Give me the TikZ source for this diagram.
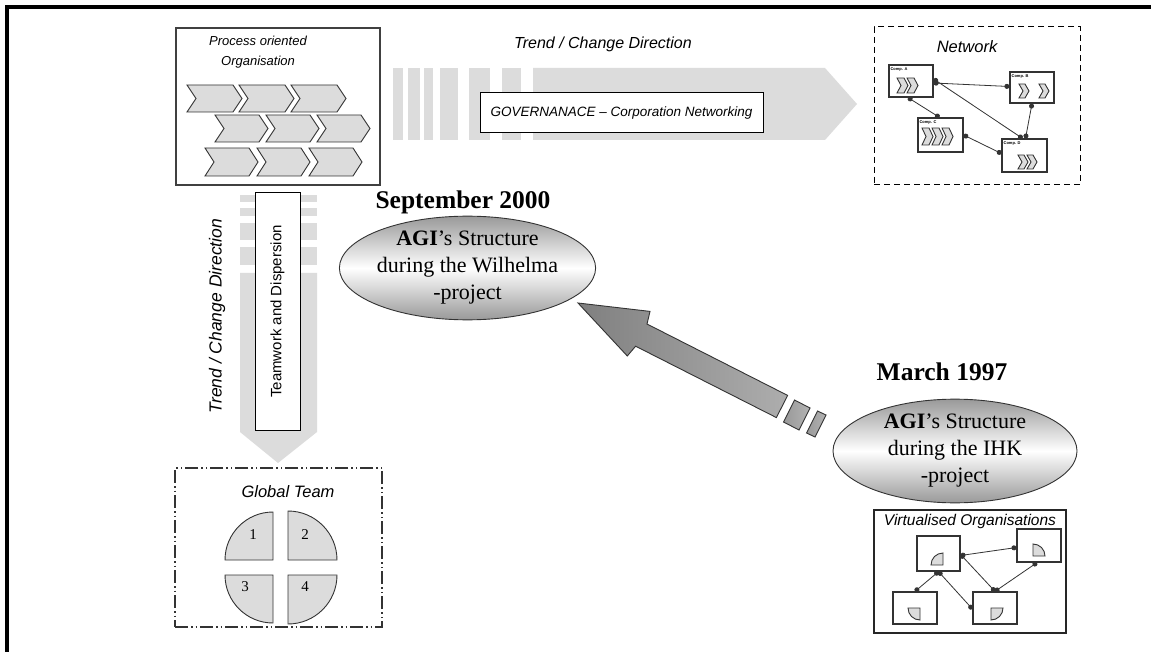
\documentclass[tikz,border=0pt]{standalone}
\usepackage{fontspec}
\setmainfont{Liberation Serif}
\setsansfont{Liberation Sans}
\usetikzlibrary{shapes.geometric,arrows.meta}
\definecolor{lg}{HTML}{DCDCDC}
\definecolor{ln}{HTML}{333333}
\tikzset{
  chevst/.style={draw=ln, fill=lg, line width=0.9pt, line join=miter},
  quadst/.style={draw=ln, fill=lg, line width=0.9pt},
  compbox/.style={draw=ln, line width=1.2pt, fill=white, inner sep=0pt},
  dotlink/.style={{Circle[length=5pt]}-{Circle[length=5pt]}, ln, line width=0.8pt},
  sanslbl/.style={font=\sffamily\itshape, inner sep=0pt},
  datelbl/.style={font=\fontsize{25.5}{27}\selectfont\bfseries, inner sep=0pt},
  bubble/.style={ellipse, draw=ln, line width=0.9pt, top color=black!40, bottom color=black!40, middle color=white,
    align=center, inner sep=0pt, font=\fontsize{22}{27}\selectfont},
}
\newcommand\mychev[5]{\draw[chevst] (#1,#2) -- (#1+#3-#5,#2) -- (#1+#3,#2+#4/2) -- (#1+#3-#5,#2+#4) -- (#1,#2+#4) -- (#1+#5,#2+#4/2) -- cycle;}
\newcommand\qTL[3]{\draw[quadst] (#1,#2) -- (#1-#3,#2) arc[start angle=180,end angle=270,radius=#3] -- cycle;}
\newcommand\qTR[3]{\draw[quadst] (#1,#2) -- (#1,#2-#3) arc[start angle=270,end angle=360,radius=#3] -- cycle;}
\newcommand\qBL[3]{\draw[quadst] (#1,#2) -- (#1-#3,#2) arc[start angle=180,end angle=90,radius=#3] -- cycle;}
\newcommand\qBR[3]{\draw[quadst] (#1,#2) -- (#1+#3,#2) arc[start angle=0,end angle=90,radius=#3] -- cycle;}
\begin{document}
\begin{tikzpicture}[x=1pt,y=-1pt]
\useasboundingbox (0,0) rectangle (1151,652);
\fill[white] (0,0) rectangle (1151,652);
% outer frame
\draw[line width=3.5pt] (7,652) -- (7,7) -- (1151,7);

% ---------- horizontal trend arrow ----------
\fill[lg] (533,68) -- (825,68) -- (857,104) -- (825,140) -- (533,140) -- cycle;
\foreach \a/\b in {393/403,408/420,424/433,440/458,469/490,502/521}
  \fill[lg] (\a,68) rectangle (\b,140);
\node[sanslbl, font=\sffamily\itshape\fontsize{16}{18}\selectfont] (trendh) at (603,44) {Trend / Change Direction};
\node[draw=black, line width=1pt, fill=white, minimum width=283pt, minimum height=40pt, inner sep=0pt,
      font=\sffamily\itshape\fontsize{13.5}{15}\selectfont] (gov) at (621.5,113) {GOVERNANACE -- Corporation Networking};

% ---------- process oriented organisation ----------
\node[draw=black!75, line width=1.8pt, minimum width=204pt, minimum height=157pt, inner sep=0pt] (proc) at (278,106.5) {};
\node[sanslbl, align=center, font=\sffamily\itshape\fontsize{13}{20}\selectfont] (proct) at (258,52) {Process oriented\\Organisation};
\foreach \x in {187,239,291} {\mychev{\x}{85}{55}{27}{9}}
\foreach \x in {215,266,317} {\mychev{\x}{115}{53}{27}{9}}
\foreach \x in {205,257,309} {\mychev{\x}{148}{53}{28}{9}}

% ---------- network ----------
\node[draw=black, dashed, dash pattern=on 6pt off 4pt, line width=1pt, minimum width=206pt, minimum height=158pt, inner sep=0pt] (net) at (977,106) {};
\node[sanslbl, font=\sffamily\itshape\fontsize{16.5}{18}\selectfont] (nett) at (967,47) {Network};
\node[compbox, minimum width=44pt, minimum height=32pt] (ca) at (911,81) {};
\node[compbox, minimum width=44pt, minimum height=31pt] (cb) at (1032,87.5) {};
\node[compbox, minimum width=45pt, minimum height=34pt] (cc) at (940.5,135) {};
\node[compbox, minimum width=45pt, minimum height=33pt] (cd) at (1024.5,155.5) {};
\foreach \n/\t in {ca/Comp. A, cb/Comp. B, cc/Comp. C, cd/Comp. D}
  \node[anchor=north west, inner sep=0pt, font=\sffamily\bfseries\fontsize{4}{4}\selectfont] at ([xshift=2pt,yshift=-3pt]\n.north west) {\t};
\mychev{897}{78}{11}{15}{4}\mychev{907}{78}{11}{15}{4}
\mychev{1019}{84}{10}{14}{4}\mychev{1039}{84}{10}{14}{4}
\mychev{922}{128}{11}{17}{4}\mychev{932}{128}{11}{17}{4}\mychev{942}{128}{11}{17}{4}
\mychev{1018}{155}{10}{14}{4}\mychev{1027}{155}{10}{14}{4}
\draw[dotlink] ([yshift=-2pt]ca.east) -- ([yshift=1pt]cb.west);
\draw[dotlink] ([yshift=2pt]ca.east) -- ([xshift=-2pt]cd.north);
\draw[dotlink] ([xshift=-3pt]ca.south) -- ([xshift=-1pt]cc.north);
\draw[dotlink] (cc.east) -- ([yshift=2pt]cd.west);
\draw[dotlink] (cb.south) -- ([xshift=1pt]cd.north);

% ---------- vertical trend arrow ----------
\fill[lg] (240,273) -- (317,273) -- (317,432) -- (278,463) -- (240,432) -- cycle;
\foreach \a/\b in {195/202,208/216,223/240,247/265}
  \fill[lg] (240,\a) rectangle (317,\b);
\node[draw=black, line width=1pt, fill=white, minimum width=45pt, minimum height=237pt, inner sep=0pt] (tw) at (277.5,311.5) {};
\node[rotate=90, inner sep=0pt, font=\sffamily\fontsize{15}{16}\selectfont] (twt) at (tw.center) {Teamwork and Dispersion};
\node[rotate=90, sanslbl, font=\sffamily\itshape\fontsize{17.5}{19}\selectfont] (trendv) at (217,316) {Trend / Change Direction};

% ---------- global team ----------
\node[draw=ln, line width=1.2pt, dash pattern=on 13pt off 3pt on 1.5pt off 3pt on 1.5pt off 3pt,
      minimum width=207pt, minimum height=159pt, inner sep=0pt] (gt) at (278.5,547.5) {};
\node[sanslbl, font=\sffamily\itshape\fontsize{16.5}{18}\selectfont] (gtt) at (288,492) {Global Team};
\qTL{273}{560}{48}\qTR{288}{560}{49}\qBL{273}{575}{48}\qBR{288}{575}{49}
\node[font=\fontsize{15}{15}\selectfont, inner sep=0pt] (n1) at (253,535) {1};
\node[font=\fontsize{15}{15}\selectfont, inner sep=0pt] (n2) at (305,535) {2};
\node[font=\fontsize{15}{15}\selectfont, inner sep=0pt] (n3) at (245,587) {3};
\node[font=\fontsize{15}{15}\selectfont, inner sep=0pt] (n4) at (305,587) {4};

% ---------- dates and bubbles ----------
\node[datelbl] (sep) at (463,202) {September 2000};
\node[bubble, minimum width=231pt, minimum height=100pt] (wil) at (467.5,268) {\textbf{AGI}'s Structure\\during the Wilhelma\\-project};
\node[datelbl] (mar) at (942,372) {March 1997};
\node[bubble, minimum width=244pt, minimum height=102pt] (ihk) at (955,451) {\textbf{AGI}'s Structure\\during the IHK\\-project};

% ---------- big diagonal arrow ----------
\path[draw=ln, line width=0.9pt, left color=black!50, right color=black!32]
  (578,303) -- (650,311.4) -- (647,324) -- (787.6,395.4) -- (776.4,417.6) -- (635.6,346.2) -- (627.3,356) -- cycle;
\path[draw=ln, line width=0.9pt, left color=black!40, right color=black!30]
  (794.5,400) -- (810,408) -- (799,430) -- (783.5,422) -- cycle;
\path[draw=ln, line width=0.9pt, left color=black!40, right color=black!30]
  (817.5,411) -- (826,415) -- (815,437) -- (806.5,433) -- cycle;

% ---------- virtualised organisations ----------
\node[draw=black!85, line width=1.5pt, minimum width=192pt, minimum height=123pt, inner sep=0pt] (vo) at (970,571.5) {};
\node[sanslbl, font=\sffamily\itshape\fontsize{15.5}{17}\selectfont] (vot) at (970,521) {Virtualised Organisations};
\node[compbox, minimum width=43pt, minimum height=35pt] (v1) at (938.5,553.5) {};
\node[compbox, minimum width=44pt, minimum height=33pt] (v2) at (1039,545.5) {};
\node[compbox, minimum width=44pt, minimum height=32pt] (v3) at (915,608) {};
\node[compbox, minimum width=44pt, minimum height=32pt] (v4) at (995,608) {};
\qTL{943}{565}{12}
\qTR{1033}{556}{12}
\qBL{920}{608}{12}
\qBR{991}{608}{12}
\draw[dotlink] ([yshift=-2pt]v1.east) -- ([yshift=-2pt]v2.west);
\draw[dotlink] (v1.south) -- (v3.north);
\draw[dotlink] (v1.south) -- ([yshift=-1pt]v4.west);
\draw[dotlink] ([yshift=-1pt]v1.east) -- (v4.north);
\draw[dotlink] ([xshift=-2pt]v2.south) -- (v4.north);
\end{tikzpicture}
\end{document}
